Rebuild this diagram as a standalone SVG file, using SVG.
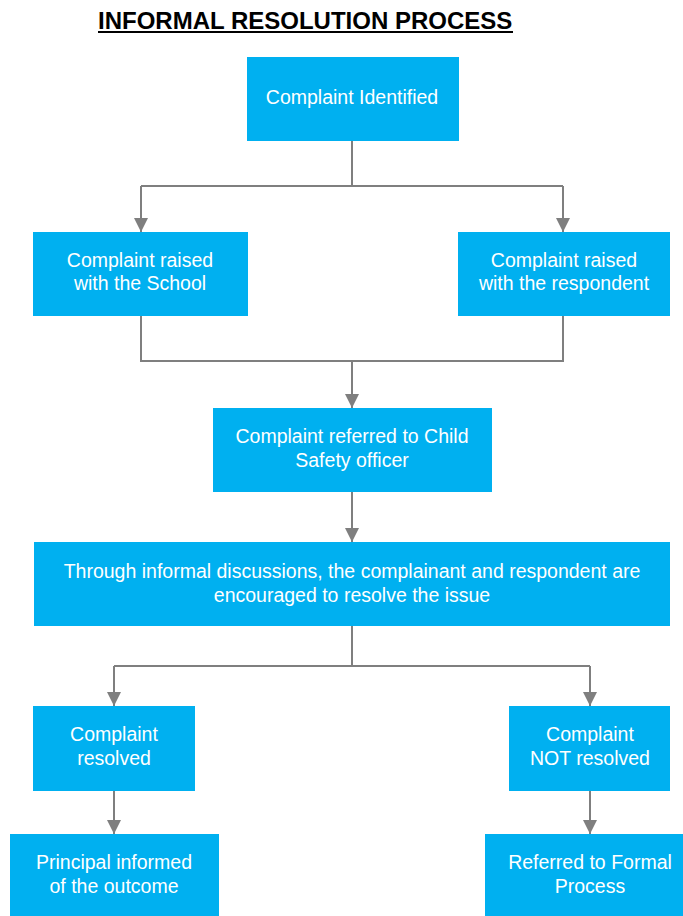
<svg xmlns="http://www.w3.org/2000/svg" width="683" height="916" viewBox="0 0 683 916">
<style>
.box{fill:#00B0F0;}
.t{font-family:"Liberation Sans",Arial,sans-serif;font-size:19.5px;fill:#ffffff;text-anchor:middle;}
.ln{fill:none;stroke:#7F7F7F;stroke-width:2;}
.title{font-family:"Liberation Sans",Arial,sans-serif;font-size:24px;font-weight:bold;fill:#000;}
</style>
<defs>
<marker id="ah" markerUnits="userSpaceOnUse" markerWidth="16" markerHeight="14" refX="14" refY="7" orient="auto">
<path d="M0,0 L14,7 L0,14 Z" fill="#7F7F7F"/>
</marker>
</defs>
<rect width="683" height="916" fill="#ffffff"/>
<g id="title">
<text class="title" x="98" y="29">INFORMAL RESOLUTION PROCESS</text>
<rect x="98" y="31" width="415" height="2" fill="#000"/>
</g>
<g id="connectors">
<path class="ln" d="M352,141 V186"/>
<path class="ln" d="M141,186 H563"/>
<path class="ln" d="M141,186 V232" marker-end="url(#ah)"/>
<path class="ln" d="M563,186 V232" marker-end="url(#ah)"/>
<path class="ln" d="M141,316 V361 H563 V316"/>
<path class="ln" d="M352,361 V408" marker-end="url(#ah)"/>
<path class="ln" d="M352,492 V542" marker-end="url(#ah)"/>
<path class="ln" d="M352,626 V666"/>
<path class="ln" d="M114,666 H590"/>
<path class="ln" d="M114,666 V706" marker-end="url(#ah)"/>
<path class="ln" d="M590,666 V706" marker-end="url(#ah)"/>
<path class="ln" d="M114,791 V834" marker-end="url(#ah)"/>
<path class="ln" d="M590,791 V834" marker-end="url(#ah)"/>
</g>
<g id="n1">
<rect class="box" x="247" y="57" width="212" height="84"/>
<text class="t" x="352" y="104">Complaint Identified</text>
</g>
<g id="n2">
<rect class="box" x="33" y="232" width="215" height="84"/>
<text class="t" x="140" y="267">Complaint raised</text>
<text class="t" x="140" y="290">with the School</text>
</g>
<g id="n3">
<rect class="box" x="458" y="232" width="212" height="84"/>
<text class="t" x="564" y="267">Complaint raised</text>
<text class="t" x="564" y="290">with the respondent</text>
</g>
<g id="n4">
<rect class="box" x="213" y="408" width="279" height="84"/>
<text class="t" x="352" y="443">Complaint referred to Child</text>
<text class="t" x="352" y="467">Safety officer</text>
</g>
<g id="n5">
<rect class="box" x="34" y="542" width="636" height="84"/>
<text class="t" x="352" y="578">Through informal discussions, the complainant and respondent are</text>
<text class="t" x="352" y="602">encouraged to resolve the issue</text>
</g>
<g id="n6">
<rect class="box" x="33" y="706" width="162" height="85"/>
<text class="t" x="114" y="741">Complaint</text>
<text class="t" x="114" y="765">resolved</text>
</g>
<g id="n7">
<rect class="box" x="509" y="706" width="161" height="85"/>
<text class="t" x="590" y="741">Complaint</text>
<text class="t" x="590" y="765">NOT resolved</text>
</g>
<g id="n8">
<rect class="box" x="10" y="834" width="209" height="90"/>
<text class="t" x="114" y="869">Principal informed</text>
<text class="t" x="114" y="893">of the outcome</text>
</g>
<g id="n9">
<rect class="box" x="485" y="834" width="210" height="90"/>
<text class="t" x="590" y="869">Referred to Formal</text>
<text class="t" x="590" y="893">Process</text>
</g>
</svg>
